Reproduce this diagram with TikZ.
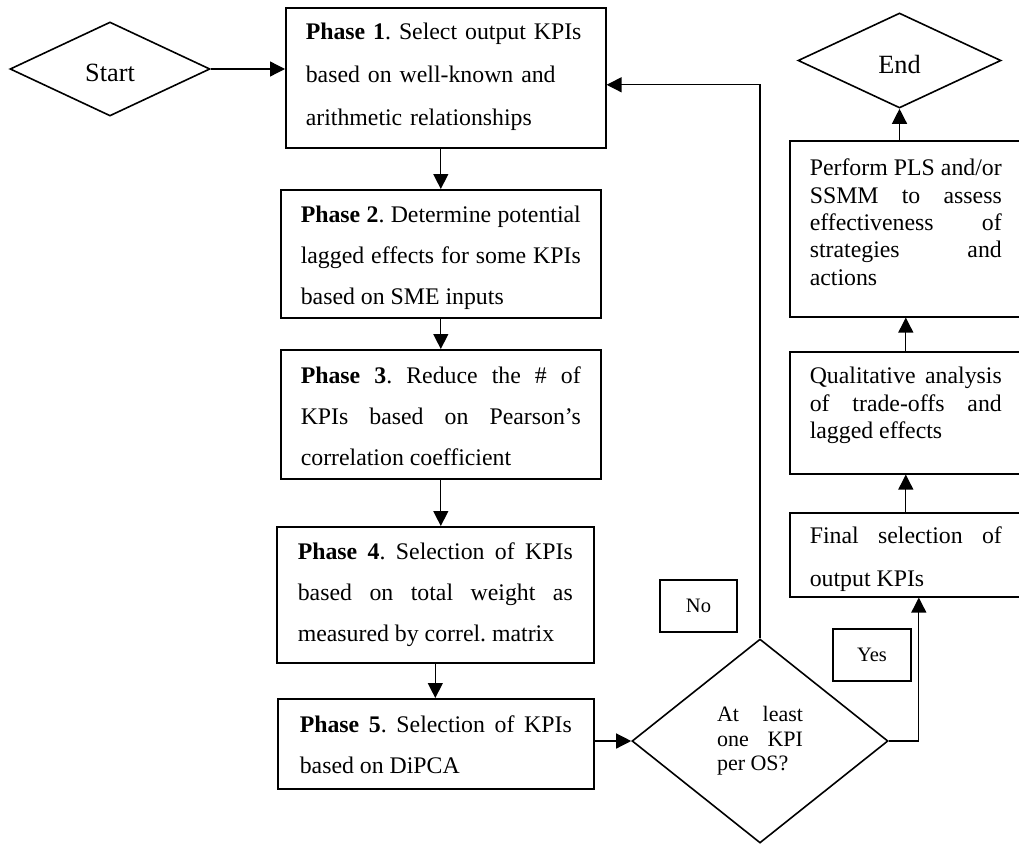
\documentclass[tikz,border=0pt]{standalone}
\usepackage{fontspec}
\setmainfont{Liberation Serif}
\usetikzlibrary{shapes.geometric,arrows.meta,calc}
\frenchspacing

\tikzset{
  phasebox/.style={draw,line width=1.6pt,anchor=north west,inner ysep=0pt,
    align=justify,font=\fontsize{23.8}{41}\selectfont},
  sidebox/.style={phasebox,text width=192pt,inner xsep=20pt,font=\fontsize{23.8}{27.3}\selectfont},
  endpoint/.style={diamond,draw,line width=1.6pt,inner sep=0pt,font=\fontsize{26.3}{30}\selectfont,text height=26pt},
  answer/.style={draw,line width=1.6pt,minimum width=77pt,minimum height=52pt,font=\fontsize{20.5}{24}\selectfont},
  flow/.style={line width=1.3pt,-{Triangle[length=15pt,width=15pt]}}
}

\begin{document}
\begin{tikzpicture}[x=1pt,y=-1pt]
\useasboundingbox (0,0) rectangle (1019,843);
\clip (0,0) rectangle (1019,843);
% left column: start and the five phases
\node[endpoint,minimum width=200pt,minimum height=94pt] (start) at (110,69) {Start};
\node[phasebox,text width=280pt,inner xsep=20pt,text height=32pt,text depth=108pt,align=left,font=\fontsize{23.8}{43}\selectfont] (p1) at (285,7)
  {\textbf{Phase 1}. Select output KPIs\\ based on well-known and\\ arithmetic relationships};
\node[phasebox,text width=280pt,inner xsep=20pt,text height=33pt,text depth=95pt] (p2) at (280,189)
  {\textbf{Phase 2}. Determine potential\linebreak lagged effects for some KPIs\linebreak based on SME inputs};
\node[phasebox,text width=280pt,inner xsep=20pt,text height=34pt,text depth=95pt] (p3) at (280,349)
  {\textbf{Phase 3}. Reduce the \# of\linebreak KPIs based on Pearson's\linebreak correlation coefficient};
\node[phasebox,text width=275pt,inner xsep=21pt,text height=33pt,text depth=103pt] (p4) at (276,526)
  {\textbf{Phase 4}. Selection of KPIs\linebreak based on total weight as\linebreak measured by correl. matrix};
\node[phasebox,text width=272pt,inner xsep=22pt,text height=34pt,text depth=56pt] (p5) at (277,698)
  {\textbf{Phase 5}. Selection of KPIs\linebreak based on DiPCA};
% decision
\node[diamond,draw,line width=1.6pt,minimum width=256pt,minimum height=204pt,inner sep=0pt,
  text width=86pt,align=justify,font=\fontsize{22}{24.5}\selectfont] (dec) at (760,741)
  {At least\linebreak one KPI\linebreak per OS?};
\node[answer] (no) at (698.5,606) {No};
\node[answer,minimum width=78pt] (yes) at (872,655) {Yes};
% right column
\node[sidebox,text height=31pt,text depth=53pt,font=\fontsize{23.8}{43}\selectfont] (fin) at (789,512)
  {Final selection of\linebreak output KPIs};
\node[sidebox,text height=32pt,text depth=90pt] (qual) at (789,351)
  {Qualitative analysis\linebreak of trade-offs and\linebreak lagged effects};
\node[sidebox,text height=35pt,text depth=141pt] (pls) at (789,140)
  {Perform PLS and/or\linebreak SSMM to assess\linebreak effectiveness of\linebreak strategies and\linebreak actions};
\node[endpoint,minimum width=203pt,minimum height=95pt] (end) at (899.5,60.5) {End};
% connectors
\draw[flow] (start.east) -- (start.east -| p1.west);
\draw[flow] (p2.north |- p1.south) -- (p2.north);
\draw[flow] (p3.north |- p2.south) -- (p3.north);
\draw[flow] (p3.south) -- (p3.south |- p4.north);
\draw[flow] (p4.south) -- (p4.south |- p5.north);
\draw[flow] (p5.east |- dec.west) -- (dec.west);
\draw[flow] (dec.north) |- ([yshift=-7pt]p1.east);
\draw[flow] (dec.east) -| ([xshift=13pt]fin.south);
\draw[flow] (fin.north) -- (qual.south);
\draw[flow] (qual.north) -- (pls.south);
\draw[flow] (end.south |- pls.north) -- (end.south);
\end{tikzpicture}
\end{document}
